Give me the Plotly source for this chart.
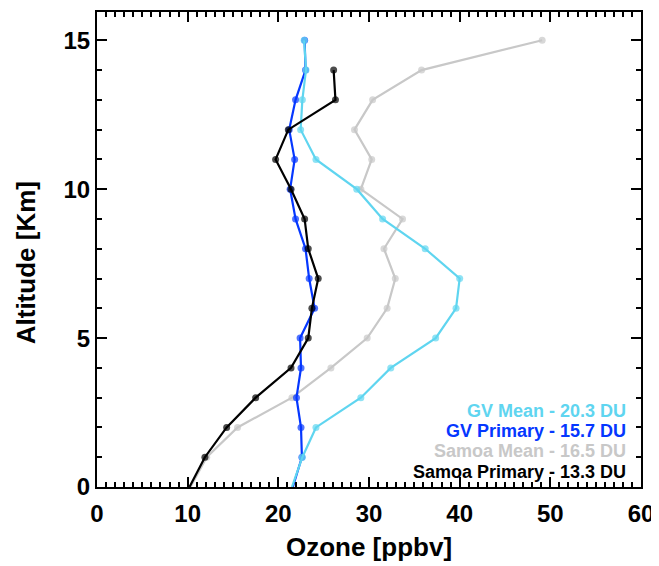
import plotly.graph_objects as go

altitude = [0, 1, 2, 3, 4, 5, 6, 7, 8, 9, 10, 11, 12, 13, 14, 15]
gv_mean = [21.5, 22.65, 24.15, 29.1, 32.4, 37.35, 39.6, 40.0, 36.2, 31.5, 28.65, 24.15, 22.46, 22.65, 23.05, 22.85]
gv_primary = [21.6, 22.6, 22.5, 22.0, 22.5, 22.4, 24.0, 23.4, 23.0, 21.9, 21.3, 21.8, 21.2, 21.9, 23.0, 22.9]
samoa_mean = [10.3, 12.1, 15.5, 21.5, 25.8, 29.8, 32.0, 32.9, 31.65, 33.7, 29.1, 30.3, 28.4, 30.4, 35.8, 49.1]
samoa_alt = [0, 1, 2, 3, 4, 5, 6, 7, 8, 9, 10, 11, 12, 13, 14]
samoa_primary = [10.2, 11.9, 14.3, 17.5, 21.4, 23.3, 23.7, 24.4, 23.3, 22.9, 21.4, 19.7, 21.1, 26.3, 26.1]

legend_labels = ["GV Mean - 20.3 DU", "GV Primary - 15.7 DU", "Samoa Mean - 16.5 DU", "Samoa Primary - 13.3 DU"]

c_cyan = "rgb(95,213,240)"
c_blue = "rgb(5,55,255)"
c_gray = "rgb(200,200,200)"
c_black = "black"
FONT = "Liberation Sans"

fig = go.Figure()

def add(xs, ys, color):
    sizes = [0 if y == 0 else 7 for y in ys]
    fig.add_trace(go.Scatter(x=xs, y=ys, mode="lines+markers",
                             line=dict(color=color, width=2.2),
                             marker=dict(color=color, size=sizes, line=dict(width=0)),
                             showlegend=False))

add(samoa_mean, altitude, c_gray)
add(gv_primary, altitude, c_blue)
add(gv_mean, altitude, c_cyan)
add(samoa_primary, samoa_alt, c_black)

colors = [c_cyan, c_blue, c_gray, c_black]
for i, (lab, col) in enumerate(zip(legend_labels, colors)):
    fig.add_annotation(x=0.9756, xref="paper", y=0.1606 - i * 0.0428, yref="paper",
                       text=lab, showarrow=False, xanchor="right", yanchor="middle",
                       font=dict(family=FONT, size=18, color=col, weight="bold"))

# y-axis title as annotation
fig.add_annotation(x=-0.13, xref="paper", y=0.4716, yref="paper", text="Altitude [Km]",
                   textangle=-90, showarrow=False, xanchor="center", yanchor="middle",
                   font=dict(family=FONT, size=26, color="black", weight="bold"))

axis_common = dict(
    showline=True, linecolor="black", linewidth=2, mirror="ticks",
    ticks="inside", ticklen=10, tickwidth=2, tickcolor="black",
    showgrid=False, zeroline=False, automargin=False,
    tickfont=dict(family=FONT, size=24, color="black", weight="bold"),
)

fig.update_xaxes(range=[0, 60], dtick=10, tick0=0, ticklabelstandoff=4,
                 minor=dict(ticks="inside", dtick=1, ticklen=5, tickwidth=1.5, tickcolor="black", showgrid=False),
                 title=dict(text="Ozone [ppbv]", font=dict(family=FONT, size=26, color="black", weight="bold"), standoff=12),
                 **axis_common)
fig.update_yaxes(range=[0, 15.95], dtick=5, tick0=0,
                 minor=dict(ticks="inside", dtick=1, ticklen=5, tickwidth=1.5, tickcolor="black", showgrid=False),
                 **axis_common)

fig.update_layout(width=651, height=558, margin=dict(l=89, r=18, t=4, b=79),
                  plot_bgcolor="white", paper_bgcolor="white")

fig.write_html("out.html")
